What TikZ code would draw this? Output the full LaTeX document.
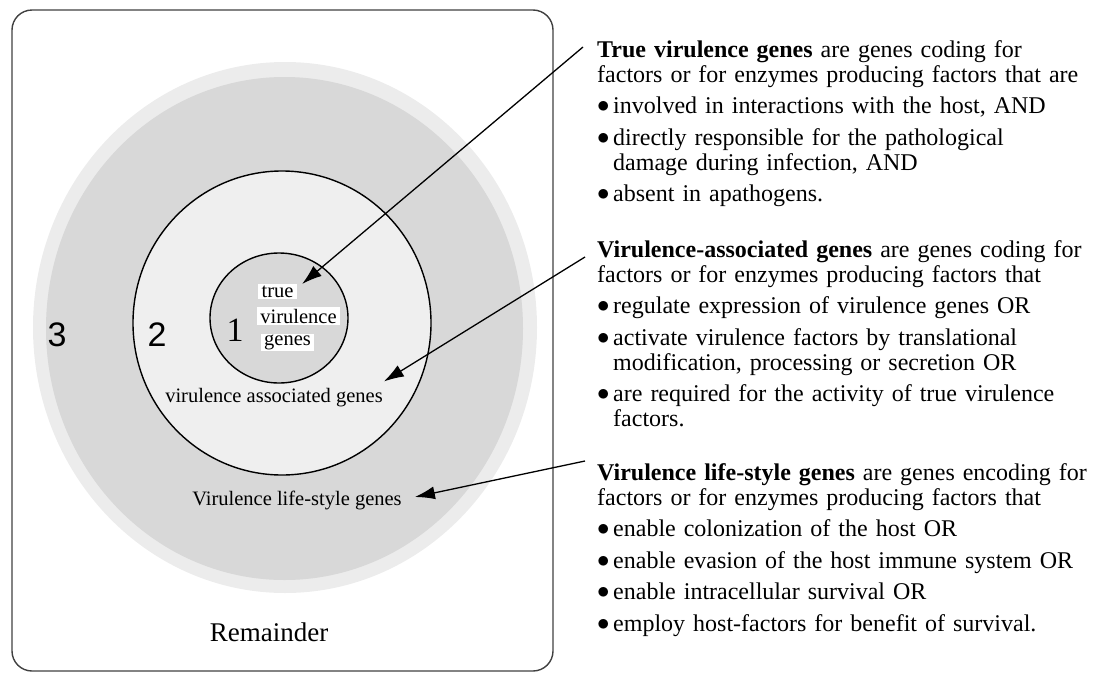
\documentclass[tikz,border=0pt]{standalone}
\usepackage{fontspec}
\setmainfont{Liberation Serif}
\setsansfont{Liberation Sans}
\usepackage{tikz}
\usetikzlibrary{shapes,arrows.meta,positioning,calc}
\definecolor{bandgray}{HTML}{ECECEC}
\definecolor{zonegray}{HTML}{D8D8D8}
\definecolor{ringgray}{HTML}{EFEFEF}
\tikzset{
    zone/.style = {ellipse, inner sep=0pt},
    ring/.style = {draw, ellipse, inner sep=0pt, line width=1.4pt},
    num/.style = {font=\fontsize{34}{34}\selectfont, inner sep=0pt},
    lbl/.style = {font=\fontsize{20.5}{22}\selectfont, inner sep=1pt},
    wbox/.style = {lbl, fill=white, inner xsep=3.5pt, inner ysep=1.5pt},
    desc/.style = {text width=495pt, align=left, anchor=base west,
        inner sep=0pt, font=\fontsize{24}{25}\selectfont},
    arrow/.style = {draw, ->, line width=1.3pt}
}
\newcommand{\bitem}[1]{\par\vspace{6.5pt}\hangindent=16pt\hangafter=1\noindent\makebox[16pt][l]{\raisebox{1pt}{$\bullet$}}#1\par}

\begin{document}
\begin{tikzpicture}[x=1pt, y=-1pt, >={Latex[length=20pt,width=13pt]}]
        \useasboundingbox (0,0) rectangle (1096,675);
        \node [draw=black!75, line width=1.4pt, rounded corners=20pt, minimum width=541pt, minimum height=661pt, inner sep=0pt] (frame) at (282.5,340.5) {};
        \node [zone, fill=bandgray, minimum width=504pt, minimum height=531pt] (band) at (285,327.5) {};
        \node [zone, fill=zonegray, minimum width=477pt, minimum height=503pt] (lsz) at (284.5,328.5) {};
        \node [ring, fill=ringgray, minimum width=298pt, minimum height=304pt] (vaz) at (282,323) {};
        \node [ring, fill=zonegray, minimum width=138pt, minimum height=130pt] (tvz) at (279,318) {};
        \node [num] (n3) at (57,335) {\sffamily 3};
        \node [num] (n2) at (157,335) {\sffamily 2};
        \node [num] (n1) at (235,330) {1};
        \node [wbox] (tv1) at (277.5,291.5) {true};
        \node [wbox] (tv2) at (298.5,316) {virulence};
        \node [wbox] (tv3) at (287.5,342.5) {genes};
        \node [lbl] (vag) at (274,398) {virulence associated genes};
        \node [lbl] (vlsg) at (297,500) {Virulence life-style genes};
        \node [font=\fontsize{27}{27}\selectfont] (rem) at (269,632) {Remainder};
        \node [desc] (tvgdesc) at (597,57) {\textbf{True virulence genes} are genes coding for\newline factors or for enzymes producing factors that are
            \bitem{involved in interactions with the host, AND}
            \bitem{directly responsible for the pathological\newline damage during infection, AND}
            \bitem{absent in apathogens.}};
        \node [desc] (vagdesc) at (597,257) {\textbf{Virulence-associated genes} are genes coding for\newline factors or for enzymes producing factors that
            \bitem{regulate expression of virulence genes OR}
            \bitem{activate virulence factors by translational\newline modification, processing or secretion OR}
            \bitem{are required for the activity of true virulence\newline factors.}};
        \node [desc] (vlsgdesc) at (597,480) {\textbf{Virulence life-style genes} are genes encoding for\newline factors or for enzymes producing factors that
            \bitem{enable colonization of the host OR}
            \bitem{enable evasion of the host immune system OR}
            \bitem{enable intracellular survival OR}
            \bitem{employ host-factors for benefit of survival.}};
        \draw [arrow] ([shift={(-14pt,10pt)}]tvgdesc.base west) -- ([xshift=5pt]tv1.north east);
        \draw [arrow] ([xshift=-12pt]vagdesc.base west) -- ([yshift=6pt]vag.north east);
        \draw [arrow] ([shift={(-12pt,19pt)}]vlsgdesc.base west) -- ([shift={(12pt,3pt)}]vlsg.east);
\end{tikzpicture}
\end{document}
